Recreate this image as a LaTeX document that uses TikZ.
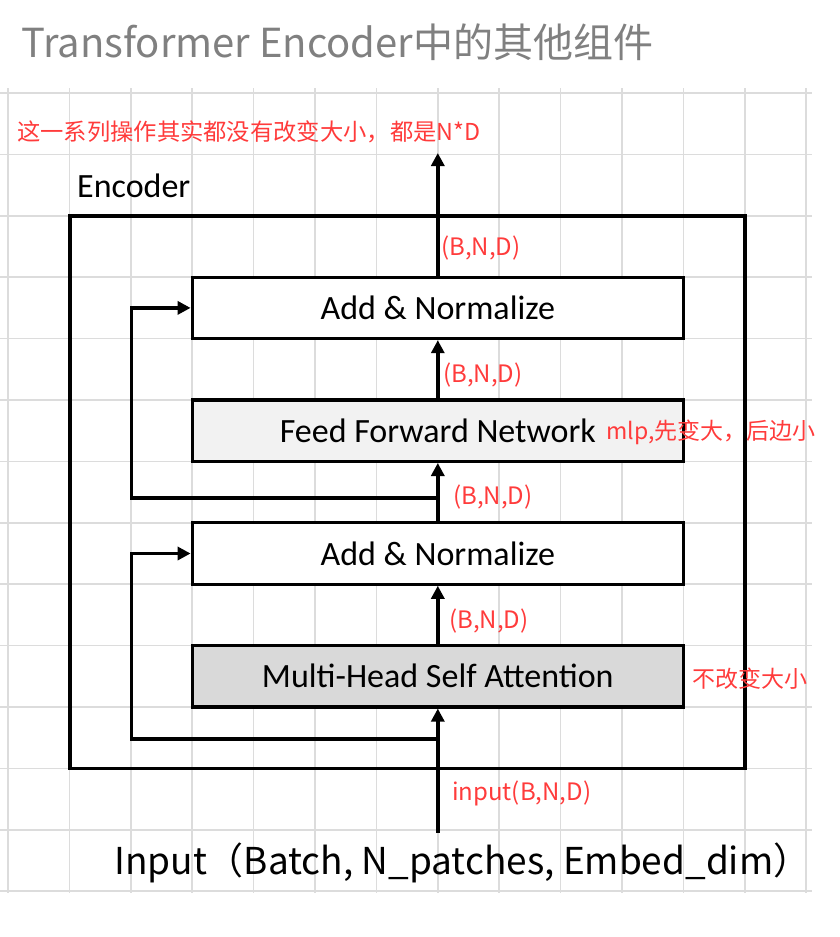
\documentclass[tikz,border=0pt]{standalone}
\usepackage{fontspec}
\usepackage{xcolor}
\usetikzlibrary{arrows.meta}
\newfontfamily\cjk{Noto Sans CJK SC}
\newfontfamily\boxfont{Carlito}
\definecolor{gridgray}{HTML}{DCDCDC}
\definecolor{notered}{HTML}{FF3B3B}
\definecolor{titlegray}{HTML}{808080}
\definecolor{ffngray}{HTML}{F2F2F2}
\definecolor{attngray}{HTML}{D9D9D9}
\newcommand{\fsize}[1]{\fontsize{#1}{#1}\selectfont}

\tikzset{
gridline/.style={draw=gridgray, line width=1.5pt},
block/.style={draw, line width=3.2pt, fill=white, minimum width=491.2pt, minimum height=61.4pt, inner sep=0pt, font=\boxfont\fsize{34}},
flow/.style={line width=3.5pt, -{Triangle[length=13pt,width=13pt]}},
dim/.style={anchor=west, inner sep=0pt, text=notered, font=\cjk\fsize{24}},
}

\begin{document}
\begin{tikzpicture}[x=1pt, y=-1pt]
\useasboundingbox (0,0) rectangle (839,937);
% grid paper
\foreach \k in {0,...,13}
  \draw[gridline] ({8+61.4*\k},88) -- ({8+61.4*\k},893);
\foreach \j in {0,...,13}
  \draw[gridline] (0,{93+61.4*\j}) -- (812,{93+61.4*\j});

\node[anchor=base west, inner sep=0pt, text=titlegray, font=\cjk\fsize{40}] at (21,57) (title) {Transformer Encoder中的其他组件};
\node[dim, font=\cjk\fsize{23.3}] at (17,132) (summary) {这一系列操作其实都没有改变大小，都是N*D};

\node[draw, line width=3.2pt, minimum width=675pt, minimum height=552.4pt] at (407.5,492.2) (enc) {};
\node[anchor=base west, inner sep=0pt, font=\boxfont\fsize{34}] at (77,197) (enclabel) {Encoder};

\node[block] at (437.8,307.9) (addtop) {Add \& Normalize};
\node[block, fill=ffngray] at (437.8,430.7) (ffn) {Feed Forward Network};
\node[block] at (437.8,553.5) (addlow) {Add \& Normalize};
\node[block, fill=attngray] at (437.8,676.3) (mhsa) {Multi-Head Self Attention};

\coordinate (inbot) at (437.8,833);
\coordinate (outtop) at (437.8,153);
\coordinate (lane) at (131.5,0);
\coordinate (res1) at (437.8,739);
\coordinate (res2) at (437.8,498);

\draw[flow] (inbot) -- (mhsa.south);
\draw[flow] (mhsa.north) -- (addlow.south);
\draw[flow] (addlow.north) -- (ffn.south);
\draw[flow] (ffn.north) -- (addtop.south);
\draw[flow] (addtop.north) -- (outtop);
\draw[flow] (res1) -- (res1 -| lane) |- (addlow.west);
\draw[flow] (res2) -- (res2 -| lane) |- (addtop.west);

\node[dim] at (441,248) (dimout) {(B,N,D)};
\node[dim] at (443,375) (dimffn) {(B,N,D)};
\node[dim] at (453,497) (dimres) {(B,N,D)};
\node[dim] at (449,621) (dimattn) {(B,N,D)};
\node[dim] at (452,793) (diminput) {input(B,N,D)};
\node[dim, font=\cjk\fsize{23}] at (606,432) (ffnnote) {mlp,先变大，后边小};
\node[dim, font=\cjk\fsize{23}] at (692,679) (attnnote) {不改变大小};

\node[anchor=west, inner sep=0pt, font=\cjk\fsize{37}] at (114,863) (inputlabel) {Input（Batch, N\_patches, Embed\_dim）};
\end{tikzpicture}
\end{document}
